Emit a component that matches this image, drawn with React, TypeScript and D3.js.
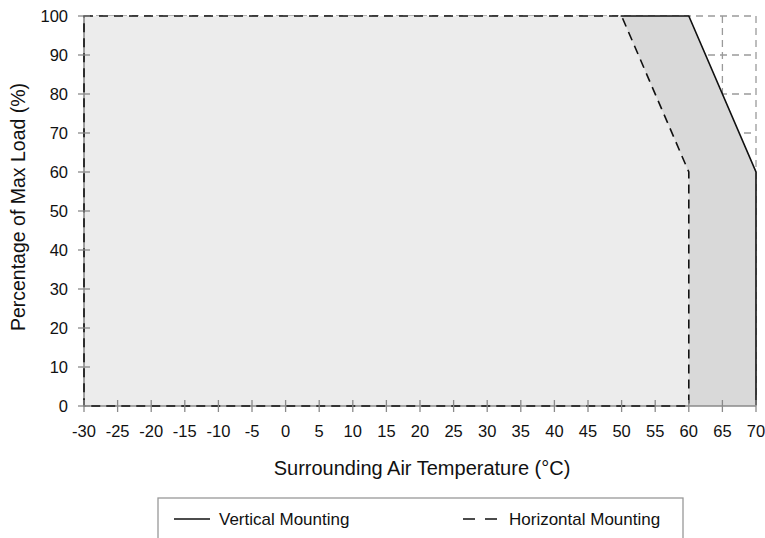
import * as d3 from 'd3';
import React, { useEffect, useRef } from 'react';

// Tick values
const tempTicks = [-30, -25, -20, -15, -10, -5, 0, 5, 10, 15, 20, 25, 30, 35, 40, 45, 50, 55, 60, 65, 70];
const loadTicks = [0, 10, 20, 30, 40, 50, 60, 70, 80, 90, 100];

// Derating curves
const verticalTemp = [-30, 60, 70];
const verticalLoad = [100, 100, 60];
const horizontalTemp = [-30, 50, 60];
const horizontalLoad = [100, 100, 60];

const legendLabels = ['Vertical Mounting', 'Horizontal Mounting'];

const App = () => {
    const ref = useRef<SVGSVGElement>(null);
    const width = 765; // Window Width
    const height = 538; // Window Height
    const margin = { top: 16, right: 9, bottom: 132, left: 84 };
    const font = "'Liberation Sans', Arial, Helvetica, sans-serif";
    const axisColor = '#8a8a8a';
    const gridColor = '#9a9a9a';

    useEffect(() => {
        const svg = d3.select(ref.current);
        svg.selectAll('*').remove();

        const w = width - margin.left - margin.right;
        const h = height - margin.top - margin.bottom;

        const x = d3.scaleLinear().domain([-30, 70]).range([0, w]);
        const y = d3.scaleLinear().domain([0, 100]).range([h, 0]);

        const g = svg.append('g')
            .attr('transform', 'translate(' + margin.left + ',' + margin.top + ')');

        // Dashed grid (only shows where the areas don't cover it)
        g.append('g').selectAll('line.vgrid')
            .data(tempTicks.slice(1))
            .enter().append('line')
            .attr('x1', d => x(d)).attr('x2', d => x(d))
            .attr('y1', 0).attr('y2', h)
            .attr('stroke', gridColor).attr('stroke-width', 1.3)
            .attr('stroke-dasharray', '7,5');
        g.append('g').selectAll('line.hgrid')
            .data(loadTicks.slice(1))
            .enter().append('line')
            .attr('x1', 0).attr('x2', w)
            .attr('y1', d => y(d)).attr('y2', d => y(d))
            .attr('stroke', gridColor).attr('stroke-width', 1.3)
            .attr('stroke-dasharray', '7,5');

        const area = d3.area<number>()
            .x(i => x(i[0]))
            .y0(y(0))
            .y1(i => y(i[1]));

        const vPts: any = verticalTemp.map((t, i) => [t, verticalLoad[i]]);
        const hPts: any = horizontalTemp.map((t, i) => [t, horizontalLoad[i]]);

        // Vertical mounting area (darker)
        g.append('path')
            .attr('d', area(vPts))
            .attr('fill', '#d9d9d9');

        // Horizontal mounting area (lighter)
        g.append('path')
            .attr('d', area(hPts))
            .attr('fill', '#ececec');

        // Vertical mounting solid line, shown where it leaves the horizontal curve
        svg.append('defs').append('clipPath').attr('id', 'vclip')
            .append('rect')
            .attr('x', x(horizontalTemp[1]) - 1).attr('y', -5)
            .attr('width', w - x(horizontalTemp[1]) + 6).attr('height', h + 4);
        const vLine: any = vPts.concat([[verticalTemp[verticalTemp.length - 1], 0]]);
        g.append('path')
            .attr('d', d3.line<any>().x(d => x(d[0])).y(d => y(d[1]))(vLine))
            .attr('clip-path', 'url(#vclip)')
            .attr('fill', 'none')
            .attr('stroke', '#111')
            .attr('stroke-width', 1.6);

        // Axis lines
        g.append('line')
            .attr('x1', 0).attr('x2', 0).attr('y1', 0).attr('y2', h)
            .attr('stroke', axisColor).attr('stroke-width', 1.6);
        g.append('line')
            .attr('x1', 0).attr('x2', w).attr('y1', h).attr('y2', h)
            .attr('stroke', axisColor).attr('stroke-width', 1.6);

        // Horizontal mounting dashed outline
        g.append('path')
            .attr('d', area(hPts))
            .attr('fill', 'none')
            .attr('stroke', '#111')
            .attr('stroke-width', 1.6)
            .attr('stroke-dasharray', '9,6');

        // Cross ticks
        g.selectAll('line.xtick')
            .data(tempTicks)
            .enter().append('line')
            .attr('x1', d => x(d)).attr('x2', d => x(d))
            .attr('y1', h - 6).attr('y2', h + 6)
            .attr('stroke', axisColor).attr('stroke-width', 1.3);
        g.selectAll('line.ytick')
            .data(loadTicks)
            .enter().append('line')
            .attr('x1', -6).attr('x2', 6)
            .attr('y1', d => y(d)).attr('y2', d => y(d))
            .attr('stroke', axisColor).attr('stroke-width', 1.3);

        // Tick labels
        g.selectAll('text.xlab')
            .data(tempTicks)
            .enter().append('text')
            .attr('x', d => x(d))
            .attr('y', h + 31)
            .attr('text-anchor', 'middle')
            .style('font-family', font).style('font-size', '16.5px').style('fill', '#111')
            .text(d => String(d));
        g.selectAll('text.ylab')
            .data(loadTicks)
            .enter().append('text')
            .attr('x', -16)
            .attr('y', d => y(d))
            .attr('dy', '0.36em')
            .attr('text-anchor', 'end')
            .style('font-family', font).style('font-size', '16.5px').style('fill', '#111')
            .text(d => String(d));

        // Axis titles
        g.append('text')
            .attr('x', w / 2 + 2)
            .attr('y', h + 69)
            .attr('text-anchor', 'middle')
            .style('font-family', font).style('font-size', '20px').style('fill', '#111')
            .text('Surrounding Air Temperature (\u00b0C)');
        g.append('text')
            .attr('transform', 'rotate(-90)')
            .attr('x', -h / 2 + 4)
            .attr('y', -margin.left + 25)
            .attr('text-anchor', 'middle')
            .style('font-family', font).style('font-size', '19.5px').style('fill', '#111')
            .text('Percentage of Max Load (%)');

        // Legend
        const lg = svg.append('g').attr('transform', 'translate(158,498)');
        lg.append('rect')
            .attr('x', 0).attr('y', 0).attr('width', 525).attr('height', 60)
            .attr('fill', 'white').attr('stroke', '#999').attr('stroke-width', 1.3);
        lg.append('line')
            .attr('x1', 16).attr('x2', 52).attr('y1', 21).attr('y2', 21)
            .attr('stroke', '#111').attr('stroke-width', 1.3);
        lg.append('text')
            .attr('x', 61).attr('y', 27)
            .style('font-family', font).style('font-size', '17px').style('fill', '#111')
            .text(legendLabels[0]);
        lg.append('line')
            .attr('x1', 305).attr('x2', 342).attr('y1', 21).attr('y2', 21)
            .attr('stroke', '#111').attr('stroke-width', 1.3)
            .attr('stroke-dasharray', '12,10');
        lg.append('text')
            .attr('x', 351).attr('y', 27)
            .style('font-family', font).style('font-size', '17px').style('fill', '#111')
            .text(legendLabels[1]);
    }, []);

    return (
        <svg ref={ref} width={width} height={height}
            style={{ position: 'absolute', left: 0, top: 0, background: 'white' }} />
    );
};

export default App;
